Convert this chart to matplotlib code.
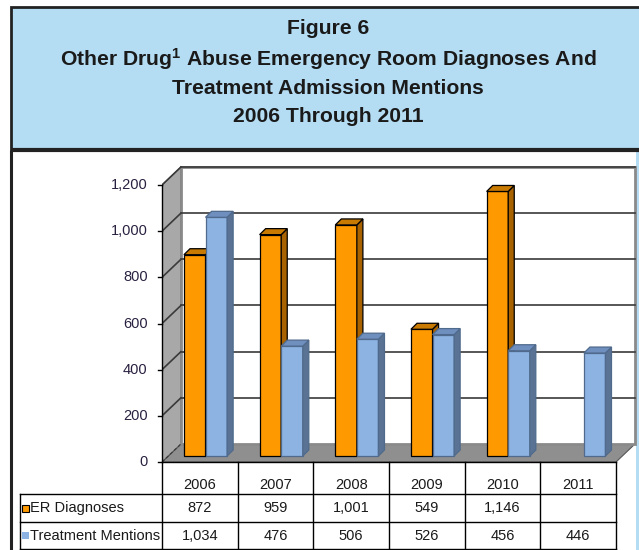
import numpy as np
import matplotlib.pyplot as plt
from matplotlib.patches import Polygon, Rectangle

years = ['2006', '2007', '2008', '2009', '2010', '2011']
er_diagnoses = [872, 959, 1001, 549, 1146, None]
treatment_mentions = [1034, 476, 506, 526, 456, 446]
series_names = ['ER Diagnoses', 'Treatment Mentions']
y_ticks = [0, 200, 400, 600, 800, 1000, 1200]

title_lines = ['Figure 6',
               'Other Drug$^1$ Abuse Emergency Room Diagnoses And',
               'Treatment Admission Mentions',
               '2006 Through 2011']

plt.rcParams['font.family'] = ['Liberation Sans', 'DejaVu Sans']
plt.rcParams['mathtext.default'] = 'regular'

W, H = 639, 550
fig = plt.figure(figsize=(W / 100, H / 100), dpi=100)

# page background in pixel coordinates
bg = fig.add_axes([0, 0, 1, 1], zorder=0)
bg.set_xlim(0, W)
bg.set_ylim(H, 0)
bg.axis('off')

panel_blue = '#B4DCF3'
bg.add_patch(Rectangle((11, 7), 640, 143, facecolor=panel_blue,
                       edgecolor='#222222', lw=2))
bg.plot([11, 640], [150, 150], color='#222222', lw=3, solid_capstyle='butt')
bg.plot([11, 11], [150, 551], color='#222222', lw=2.2, solid_capstyle='butt')
bg.add_patch(Rectangle((636, 152), 4, 400, facecolor=panel_blue, edgecolor='none'))

for text, y in zip(title_lines, [29, 59, 88, 117]):
    bg.text(328, y, text, ha='center', va='center', fontsize=15.2,
            fontweight='bold', color='#1a1a1a')

# chart axes: 75.67 px per category, 0.2308 px per unit
px_x = 75.67
px_y = 0.23083
x0_px, y0_px = 162, 462
xmax, ymax = 6.3, 1300
ax = fig.add_axes([x0_px / W, (H - y0_px) / H, xmax * px_x / W, ymax * px_y / H],
                  zorder=1)
ax.set_xlim(0, xmax)
ax.set_ylim(0, ymax)
ax.patch.set_alpha(0)
for s in ax.spines.values():
    s.set_visible(False)
ax.set_xticks([])

n = len(years)
wdx, wdy = 0.25, 78.0   # wall depth
bdx, bdy = 0.08, 26.0   # bar depth / offset
grid_c = '#3a3a3a'

# floor, side wall, back wall
ax.add_patch(Polygon([(0, 0), (n, 0), (n + wdx, wdy), (wdx, wdy)],
                     facecolor='#8f8f8f', edgecolor='#555555', lw=0.8, zorder=1))
ax.add_patch(Polygon([(0, 0), (wdx, wdy), (wdx, 1200 + wdy), (0, 1200)],
                     facecolor='#a8a8a8', edgecolor='#555555', lw=0.8, zorder=1))
ax.add_patch(Rectangle((wdx, wdy), n, 1200, facecolor='white',
                       edgecolor='#8a8a8a', lw=2, zorder=1))
for v in y_ticks[1:]:
    ax.plot([wdx, n + wdx], [v + wdy, v + wdy], color=grid_c, lw=1.2, zorder=2)
    ax.plot([0, wdx], [v, v + wdy], color=grid_c, lw=1.2, zorder=2)
ax.plot([0, wdx], [0, wdy], color=grid_c, lw=0.8, ls=(0, (3, 2)), zorder=2)

# y axis
ax.plot([0, 0], [0, 1200], color='black', lw=1, zorder=3, clip_on=False)
for v in y_ticks:
    ax.plot([-0.05, 0], [v, v], color='black', lw=1, zorder=3, clip_on=False)
    ax.text(-0.19, v, f'{v:,}', ha='right', va='center', fontsize=10.5,
            color='#2a2140')
ax.set_yticks([])

bar_w = 0.285
gap = 0.21
styles = [
    dict(front='#FF9900', top='#C97A00', side='#A86200', edge='black'),
    dict(front='#8DB3E2', top='#6F8FBF', side='#5A7394', edge='#4f6a8c'),
]


def draw_bar(x, v, st):
    x1 = x + bar_w
    lw = 0.9
    ax.add_patch(Rectangle((x, bdy), bar_w, v, facecolor=st['front'],
                           edgecolor=st['edge'], lw=lw, zorder=4))
    ax.add_patch(Polygon([(x1, bdy), (x1 + bdx, 2 * bdy), (x1 + bdx, v + 2 * bdy),
                          (x1, v + bdy)], facecolor=st['side'],
                         edgecolor=st['edge'], lw=lw, zorder=4))
    ax.add_patch(Polygon([(x, v + bdy), (x + bdx, v + 2 * bdy),
                          (x1 + bdx, v + 2 * bdy), (x1, v + bdy)],
                         facecolor=st['top'], edgecolor=st['edge'], lw=lw, zorder=4))


for i in range(n):
    for k, series in enumerate([er_diagnoses, treatment_mentions]):
        v = series[i]
        if v is None:
            continue
        draw_bar(i + gap + bdx + k * bar_w, v, styles[k])

# data table under the chart
row_edges = [0, -139, -260, -378]
left_x = (20 - x0_px) / px_x
line_kw = dict(color='black', lw=1, clip_on=False, zorder=3)
ax.plot([0, n], [0, 0], **line_kw)
for r in row_edges[1:]:
    ax.plot([left_x, n], [r, r], **line_kw)
for i in range(n + 1):
    ax.plot([i, i], [0, row_edges[-1]], **line_kw)
ax.plot([left_x, left_x], [row_edges[1], row_edges[-1]], **line_kw)

txt_kw = dict(fontsize=10.5, color='#1a1a1a', clip_on=False)
for i, yr in enumerate(years):
    ax.text(i + 0.5, -98, yr, ha='center', va='center', **txt_kw)
for r, (name, series) in enumerate(zip(series_names,
                                       [er_diagnoses, treatment_mentions])):
    yc = (row_edges[r + 1] + row_edges[r + 2]) / 2
    key_x = left_x + 0.03
    ax.add_patch(Rectangle((key_x, yc - 15), 0.09, 30,
                           facecolor=styles[r]['front'],
                           edgecolor='black' if r == 0 else 'none',
                           lw=0.8, clip_on=False, zorder=3))
    ax.text(key_x + 0.1, yc, name, ha='left', va='center', **txt_kw)
    for i, v in enumerate(series):
        if v is not None:
            ax.text(i + 0.5, yc, f'{v:,}', ha='center', va='center', **txt_kw)

fig.savefig('out.png', dpi=100)
